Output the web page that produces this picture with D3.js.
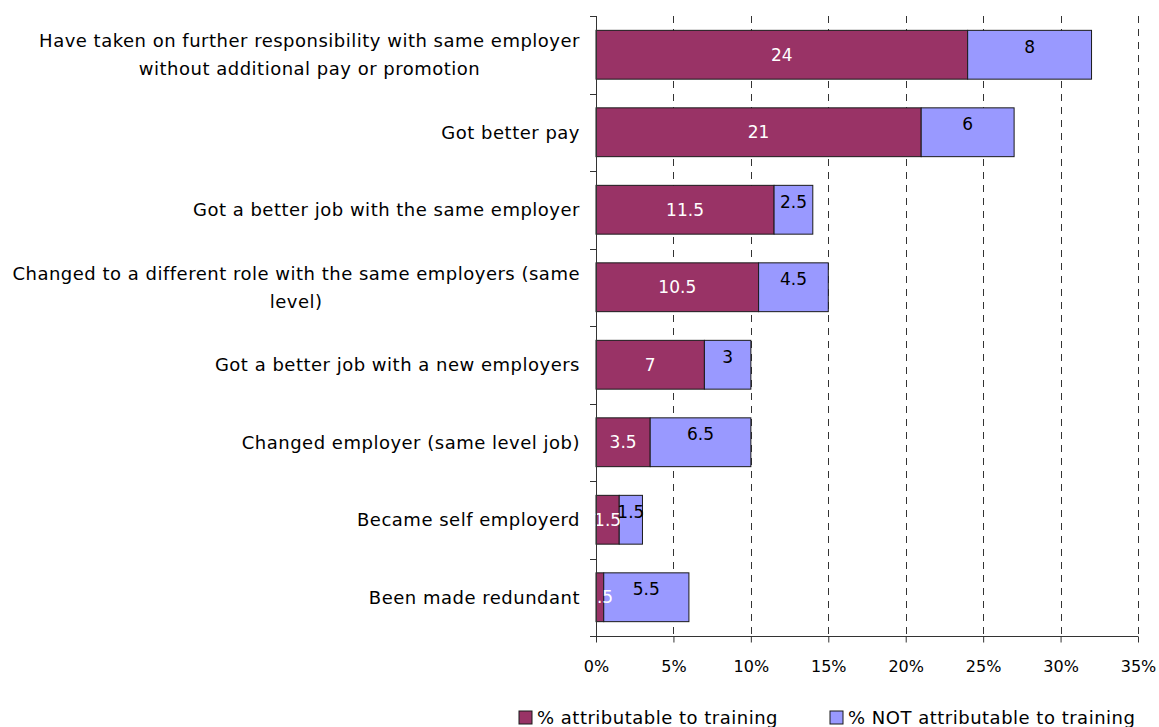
<!DOCTYPE html>
<html>
<head>
<meta charset="utf-8">
<script src="https://cdn.jsdelivr.net/npm/d3@7"></script>
<style>
  html, body { margin: 0; padding: 0; background: #fff; }
  svg { display: block; font-family: "DejaVu Sans", sans-serif; }
</style>
</head>
<body>
<svg id="chart" width="1159" height="727"></svg>
<script>
// Career outcomes after training, % of respondents
const categories = [
  "Have taken on further responsibility with same employer without additional pay or promotion",
  "Got better pay",
  "Got a better job with the same employer",
  "Changed to a different role with the same employers (same level)",
  "Got a better job with a new employers",
  "Changed employer (same level job)",
  "Became self employerd",
  "Been made redundant"
];
const attributable = [24, 21, 11.5, 10.5, 7, 3.5, 1.5, 0.5];
const notAttributable = [8, 6, 2.5, 4.5, 3, 6.5, 1.5, 5.5];
const seriesNames = ["% attributable to training", "% NOT attributable to training"];
const xTicks = [0, 5, 10, 15, 20, 25, 30, 35];

const colors = ["#993366", "#9999FF"];
const valueFont = 17;
const textFont = 18;
const textSpacing = 0.5;

const svg = d3.select("#chart");
const margin = { left: 596, right: 1138, top: 16, bottom: 636 };

const x = d3.scaleLinear().domain([0, 35]).range([margin.left, margin.right]);
const y = d3.scaleBand().domain(categories).range([margin.top, margin.bottom])
  .paddingInner(0.37).paddingOuter(0.185);

const fmt = v => (v < 1 ? String(v).replace(/^0/, "") : String(v));

// dashed vertical gridlines
svg.append("g").selectAll("line")
  .data(xTicks.filter(t => t > 0))
  .join("line")
  .attr("x1", d => Math.round(x(d)) + 0.5).attr("x2", d => Math.round(x(d)) + 0.5)
  .attr("y1", margin.top).attr("y2", margin.bottom)
  .attr("stroke", "#333").attr("stroke-width", 1)
  .attr("stroke-dasharray", "7,6");

// stacked bars
const rows = categories.map((c, i) => ({ c, a: attributable[i], n: notAttributable[i] }));
const gBars = svg.append("g");
rows.forEach(r => {
  const y0 = y(r.c), h = y.bandwidth();
  gBars.append("rect")
    .attr("x", x(0)).attr("y", y0)
    .attr("width", x(r.a) - x(0)).attr("height", h)
    .attr("fill", colors[0]).attr("stroke", "#1a1a1a").attr("stroke-width", 1);
  gBars.append("rect")
    .attr("x", x(r.a)).attr("y", y0)
    .attr("width", x(r.a + r.n) - x(r.a)).attr("height", h)
    .attr("fill", colors[1]).attr("stroke", "#1a1a1a").attr("stroke-width", 1);
});

// value labels
const gLab = svg.append("g").attr("font-size", valueFont);
rows.forEach(r => {
  const cy = y(r.c) + y.bandwidth() / 2;
  gLab.append("text")
    .attr("x", Math.max((x(0) + x(r.a)) / 2, x(0) + 9)).attr("y", cy)
    .attr("dy", "0.36em").attr("text-anchor", "middle")
    .attr("fill", "#fff").text(fmt(r.a));
  gLab.append("text")
    .attr("x", (x(r.a) + x(r.a + r.n)) / 2).attr("y", cy - 8)
    .attr("dy", "0.36em").attr("text-anchor", "middle")
    .attr("fill", "#000").text(fmt(r.n));
});

// y axis line + boundary ticks
const axisColor = "#333";
svg.append("line")
  .attr("x1", x(0) + 0.5).attr("x2", x(0) + 0.5)
  .attr("y1", margin.top).attr("y2", margin.bottom + 6)
  .attr("stroke", axisColor);
const bounds = d3.range(categories.length + 1).map(i => margin.top + i * y.step());
svg.append("g").selectAll("line").data(bounds).join("line")
  .attr("x1", x(0) - 6).attr("x2", x(0))
  .attr("y1", d => Math.round(d) + 0.5).attr("y2", d => Math.round(d) + 0.5)
  .attr("stroke", axisColor);

// x axis
const xAxis = svg.append("g")
  .attr("transform", `translate(0,${margin.bottom + 0.5})`)
  .call(d3.axisBottom(x).tickValues(xTicks).tickFormat(d => d + "%").tickSize(6).tickPadding(18));
xAxis.select(".domain").attr("stroke", axisColor).attr("d", `M${x(0) - 6},0H${x(35)}`);
xAxis.selectAll(".tick line").attr("stroke", axisColor);
xAxis.selectAll(".tick text").attr("font-size", 16)
  .attr("font-family", "DejaVu Sans, sans-serif").attr("fill", "#000");

// category labels, wrapped and centred as a right-aligned block
const gCat = svg.append("g").attr("font-size", textFont)
  .attr("letter-spacing", textSpacing).attr("fill", "#000");
const lineH = 28;
const maxW = 585;
function wrapWords(text, node) {
  const words = text.split(" ");
  const lines = [];
  let line = [];
  words.forEach(w => {
    const trial = line.concat(w).join(" ");
    node.text(trial);
    if (node.node().getComputedTextLength() > maxW && line.length) {
      lines.push(line.join(" "));
      line = [w];
    } else {
      line.push(w);
    }
  });
  lines.push(line.join(" "));
  return lines;
}
categories.forEach(c => {
  const t = gCat.append("text").attr("text-anchor", "middle");
  const lines = wrapWords(c, t);
  t.text(null);
  const widths = lines.map(l => { t.text(l); return t.node().getComputedTextLength(); });
  t.text(null);
  const w = d3.max(widths);
  const cx = x(0) - 16 - w / 2;
  const cy = y(c) + y.bandwidth() / 2;
  lines.forEach((l, i) => {
    t.append("tspan").attr("x", cx)
      .attr("y", cy + (i - (lines.length - 1) / 2) * lineH)
      .attr("dy", "0.36em").text(l);
  });
});

// legend
const legend = svg.append("g").attr("font-size", textFont).attr("letter-spacing", textSpacing);
const legendPos = [519, 830];
seriesNames.forEach((s, i) => {
  const g = legend.append("g").attr("transform", `translate(${legendPos[i]},711)`);
  g.append("rect").attr("width", 13).attr("height", 13)
    .attr("fill", colors[i]).attr("stroke", "#1a1a1a");
  g.append("text").attr("x", 18).attr("y", 7).attr("dy", "0.36em").text(s);
});
</script>
</body>
</html>
